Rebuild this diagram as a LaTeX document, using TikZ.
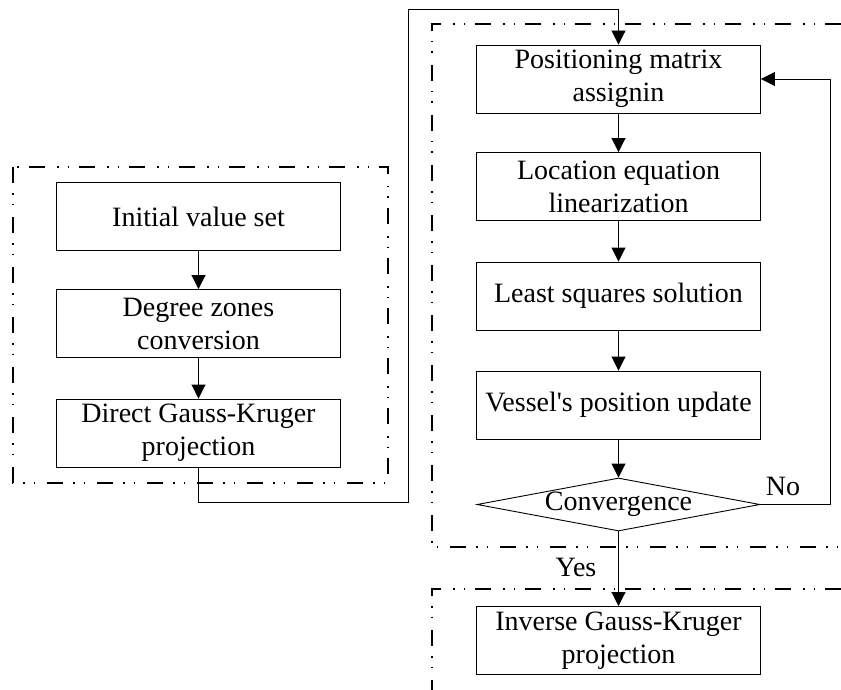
\documentclass[tikz,border=0pt]{standalone}
\usepackage{fontspec}
\setmainfont{Liberation Serif}
\usetikzlibrary{arrows.meta,shapes.geometric}
\begin{document}
\begin{tikzpicture}[x=1pt,y=-1pt,
  font=\fontsize{28}{33}\selectfont,
  stepbox/.style={draw, line width=0.9pt, align=center, inner sep=0pt,
    minimum width=284pt, minimum height=68pt},
  decide/.style={draw, line width=0.9pt, diamond, inner sep=0pt,
    minimum width=283pt, minimum height=53pt},
  flow/.style={line width=0.9pt, -{Triangle[length=14pt,width=14pt]}},
  group/.style={line width=1.4pt, dash pattern=on 16pt off 10pt on 1.5pt off 9pt on 1.5pt off 12pt},
  lbl/.style={inner sep=0pt, anchor=base}]
\useasboundingbox (0,0) rectangle (841,690);
% group frames
\draw[group] (13,167) rectangle (388,483);
\draw[group] (841,24) -- (432,24) -- (432,547) -- (841,547);
\draw[group] (841,589) -- (432,589) -- (432,690);
% left column
\node[stepbox] (init) at (198.5,216.5) {Initial value set};
\node[stepbox] (deg) at (198.5,323.5) {Degree zones\\conversion};
\node[stepbox] (dgk) at (198.5,433) {Direct Gauss-Kruger\\projection};
% right column
\node[stepbox] (pos) at (618.5,79) {Positioning matrix\\assignin};
\node[stepbox] (loc) at (618.5,186.5) {Location equation\\linearization};
\node[stepbox] (lsq) at (618.5,296) {Least squares solution};
\node[stepbox] (ves) at (618.5,405) {Vessel\textquotesingle s position update};
\node[decide, label=center:Convergence] (conv) at (618.5,504.5) {};
\node[stepbox] (igk) at (618.5,640.5) {Inverse Gauss-Kruger\\projection};
% connectors
\coordinate (c1) at (198.5,502);
\coordinate (c2) at (408,502);
\coordinate (c3) at (408,9);
\coordinate (c4) at (618.5,9);
\coordinate (f1) at (830,504.5);
\coordinate (f2) at (830,79);
\draw[flow] (init) -- (deg);
\draw[flow] (deg) -- (dgk);
\draw[flow] (dgk.south) -- (c1) -- (c2) -- (c3) -- (c4) -- (pos.north);
\draw[flow] (pos) -- (loc);
\draw[flow] (loc) -- (lsq);
\draw[flow] (lsq) -- (ves);
\draw[flow] (ves) -- (conv);
\draw[flow] (conv) -- (igk);
\draw[flow] (conv.east) -- (f1) -- (f2) -- (pos.east);
\node[lbl] (no) at (783,495) {No};
\node[lbl] (yes) at (576,576) {Yes};
\end{tikzpicture}
\end{document}
